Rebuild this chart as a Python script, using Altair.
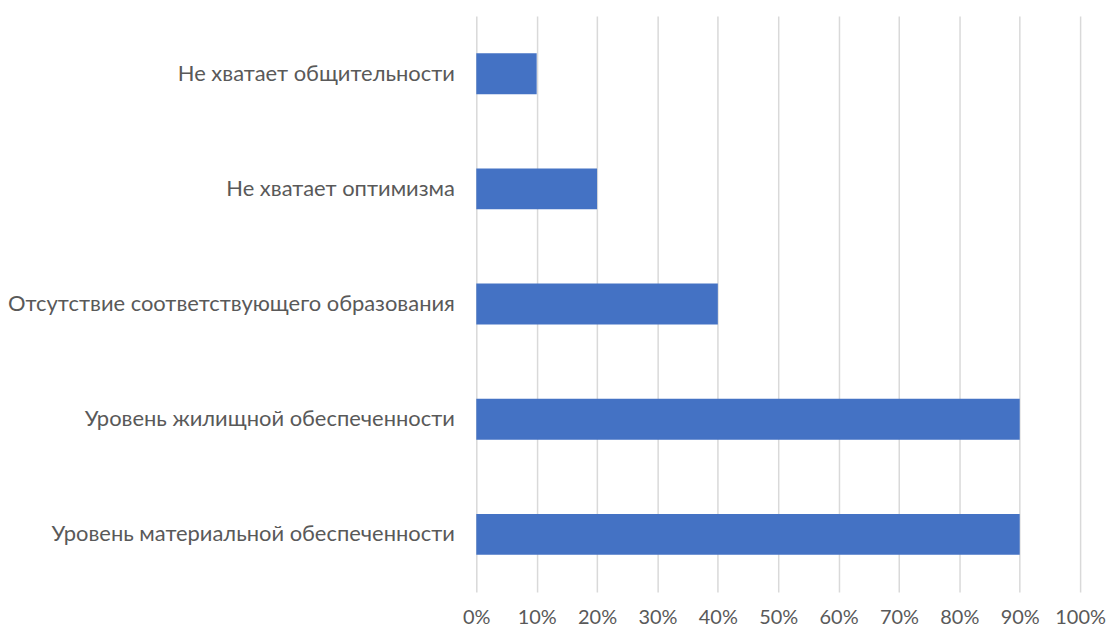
import altair as alt
import pandas as pd

categories = [
    "Не хватает общительности",
    "Не хватает оптимизма",
    "Отсутствие соответствующего образования",
    "Уровень жилищной обеспеченности",
    "Уровень материальной обеспеченности",
]
values = [0.10, 0.20, 0.40, 0.90, 0.90]

df = pd.DataFrame({"cat": categories, "val": values})

FONT = "Lato"
FS = 22

chart = alt.Chart(df).mark_bar(color="#4472C4").encode(
    y=alt.Y("cat:N", sort=categories, title=None,
            scale=alt.Scale(paddingInner=0.645, paddingOuter=0.3225),
            axis=alt.Axis(domain=False, ticks=False, labelPadding=22,
                          labelFont=FONT, labelFontSize=FS, labelColor="#595959",
                          labelLimit=500, grid=False)),
    x=alt.X("val:Q", title=None,
            scale=alt.Scale(domain=[0, 1], nice=False),
            axis=alt.Axis(format=".0%", values=[i / 10 for i in range(11)],
                          domain=False, ticks=False, labelPadding=16,
                          labelFlush=False, labelOverlap=False,
                          labelFont=FONT, labelFontSize=20, labelColor="#595959",
                          grid=True, gridColor="#d9d9d9", gridWidth=1.5)),
).properties(
    width=606, height=578,
    autosize=alt.AutoSizeParams(type="none"),
    padding={"left": 470, "top": 7, "right": 30, "bottom": 36},
).configure_view(stroke=None)

chart.save("out.html", embed_options={"renderer": "svg", "actions": False})
